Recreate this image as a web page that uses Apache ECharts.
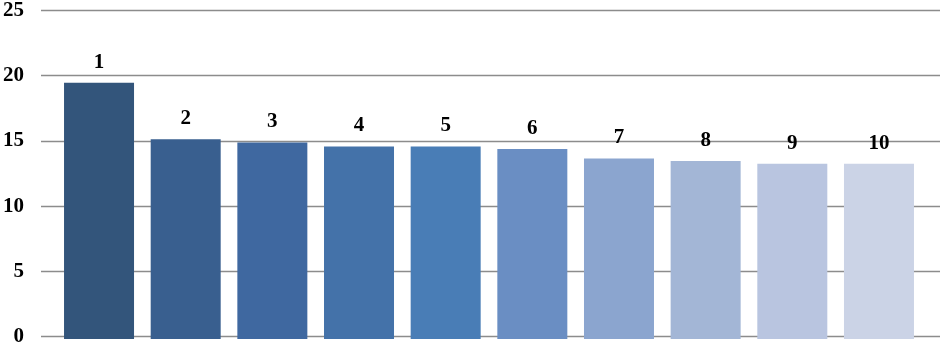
<!DOCTYPE html>
<html>
<head>
<meta charset="utf-8">
<script src="https://cdn.jsdelivr.net/npm/echarts@6/dist/echarts.min.js"></script>
<style>html,body{margin:0;padding:0;background:#fff}#c{width:940px;height:347px}</style>
</head>
<body>
<div id="c"></div>
<script>
const categories = ['1','2','3','4','5','6','7','8','9','10'];
const values = [19.3, 15.05, 14.8, 14.5, 14.5, 14.3, 13.6, 13.4, 13.2, 13.2];
const barColors = ['#33557b','#395f8f','#3f68a0','#4472a9','#497db6','#6a8ec3','#8ba5cf','#a3b6d6','#b9c5e0','#cbd3e6'];
const yTicks = [0, 5, 10, 15, 20, 25];

const chart = echarts.init(document.getElementById('c'), null, {renderer: 'canvas'});
const font = {fontFamily: '"Liberation Serif", "Times New Roman", serif', fontWeight: 'bold', color: '#000'};
chart.setOption({
  animation: false,
  backgroundColor: '#fff',
  grid: [
    {left: 38, right: 0, top: 7, bottom: 8, containLabel: false},
    {left: 55.7, right: 17.7, top: 7, bottom: 8, containLabel: false}
  ],
  xAxis: [
    {gridIndex: 0, type: 'category', data: categories, show: false},
    {gridIndex: 1, type: 'category', data: categories, axisLine: {show: false}, axisTick: {show: false}, axisLabel: {show: false}}
  ],
  yAxis: [
    {gridIndex: 0, type: 'value', min: yTicks[0], max: yTicks[yTicks.length - 1], interval: 5,
     axisLine: {show: false}, axisTick: {show: false},
     axisLabel: Object.assign({fontSize: 21, margin: 17}, font),
     splitLine: {show: true, lineStyle: {color: '#8c8c8c', width: 1.3}}},
    {gridIndex: 1, type: 'value', min: yTicks[0], max: yTicks[yTicks.length - 1], interval: 5, show: false, splitLine: {show: false}}
  ],
  series: [{
    type: 'bar',
    xAxisIndex: 1,
    yAxisIndex: 1,
    barWidth: 70,
    data: values.map((v, i) => ({value: v, itemStyle: {color: barColors[i]}})),
    label: Object.assign({show: true, position: 'top', distance: 10, fontSize: 21,
      formatter: p => categories[p.dataIndex]}, font)
  }]
});
</script>
</body>
</html>
